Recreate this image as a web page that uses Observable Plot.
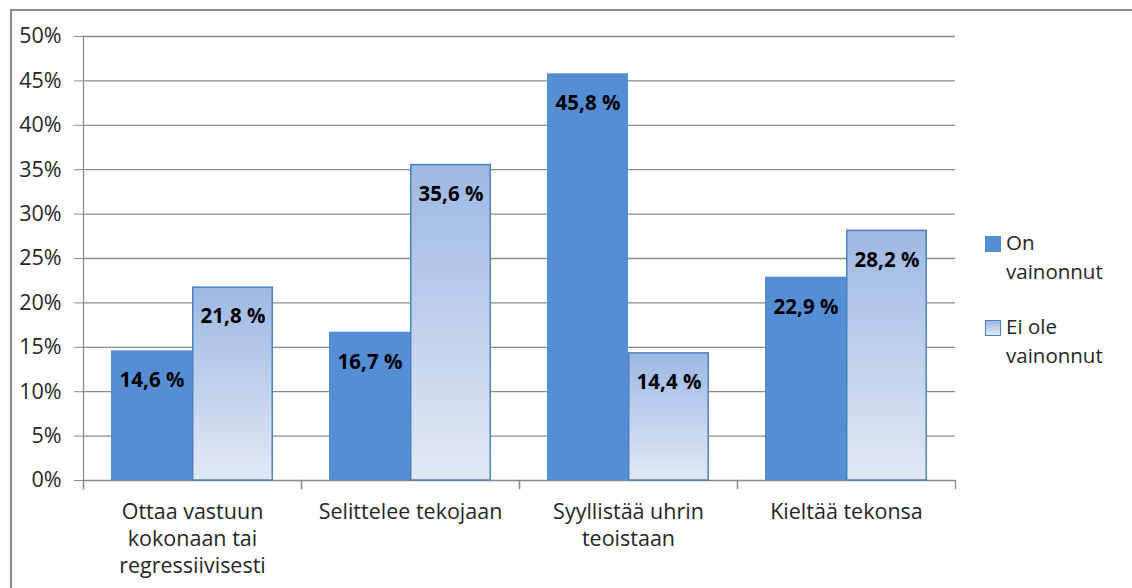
<!DOCTYPE html>
<html><head><meta charset="utf-8">
<script src="https://cdn.jsdelivr.net/npm/d3@7"></script>
<script src="https://cdn.jsdelivr.net/npm/@observablehq/plot@0.6"></script>
<style>
body{margin:0;background:#fff;}
#wrap{position:relative;width:1132px;height:588px;overflow:hidden;font-family:"Open Sans",sans-serif;background:#fff;}
#border{position:absolute;left:10px;top:9px;width:1300px;height:800px;border-top:2.5px solid #8a8a8a;border-left:2.5px solid #8a8a8a;pointer-events:none;}
#chart{position:absolute;left:0;top:0;}
#legend{position:absolute;left:985px;top:228px;font-size:20.5px;color:#262626;line-height:29px;}
.item{position:relative;padding-left:21px;margin-bottom:26px;}
.sw{position:absolute;left:0;top:8px;width:16px;height:16px;box-sizing:border-box;}
</style></head>
<body>
<div id="wrap"><div id="chart"></div><div id="border"></div><div id="legend"></div></div>
<script>
const categories = ["Ottaa vastuun\nkokonaan tai\nregressiivisesti", "Selittelee tekojaan", "Syyllistää uhrin\nteoistaan", "Kieltää tekonsa"];
const seriesNames = ["On vainonnut", "Ei ole vainonnut"];
const legendLines = [["On", "vainonnut"], ["Ei ole", "vainonnut"]];
const onValues = [14.6, 16.7, 45.8, 22.9];
const eiValues = [21.8, 35.6, 14.4, 28.2];
const yTicks = [0, 5, 10, 15, 20, 25, 30, 35, 40, 45, 50];

const colorOn = "#558ED5";
const strokeEi = "#4f81bd";

const rows = [];
categories.forEach((c, i) => {
  rows.push({category: c, series: seriesNames[0], value: onValues[i]});
  rows.push({category: c, series: seriesNames[1], value: eiValues[i]});
});
const fmt = v => v.toFixed(1).replace(".", ",") + " %";

const W = 1132, H = 588, mT = 36, mB = 108, mL = 81, mR = 176;
const innerH = H - mT - mB;
const gray = "#8a8a8a";

const plot = Plot.plot({
  width: W, height: H,
  marginTop: mT, marginBottom: mB, marginLeft: mL, marginRight: mR,
  style: {fontFamily: "'Open Sans', sans-serif", background: "transparent"},
  fx: {domain: categories, padding: 0, label: null},
  x: {domain: seriesNames, paddingInner: 0, paddingOuter: 0.342, axis: null},
  y: {domain: [0, 50], axis: null},
  marks: [
    Plot.gridY(yTicks, {stroke: gray, strokeOpacity: 1, strokeWidth: 1.3}),
    Plot.frame({anchor: "left", facet: "super", stroke: gray, strokeWidth: 1.3, insetBottom: -8}),
    Plot.frame({anchor: "left", stroke: gray, strokeWidth: 1.3, insetTop: innerH, insetBottom: -8}),
    Plot.frame({anchor: "right", stroke: gray, strokeWidth: 1.3, insetTop: innerH, insetBottom: -8}),
    Plot.barY(rows.filter(d => d.series === seriesNames[0]), {fx: "category", x: "series", y: "value", fill: colorOn}),
    Plot.barY(rows.filter(d => d.series === seriesNames[1]), {fx: "category", x: "series", y: "value", fill: "url(#eiGrad)", stroke: strokeEi, strokeWidth: 1.5, insetTop: 0.75, insetLeft: 0.75, insetRight: 0.75}),
    Plot.text(rows, {fx: "category", x: "series", y: "value", text: d => fmt(d.value), dy: 30, fontWeight: "bold", fontSize: 20.5, fill: "#000"}),
    Plot.axisY(yTicks, {tickFormat: d => d + "%", tickSize: 9, tickPadding: 13, fontSize: 21.5, stroke: gray, fill: "#262626", label: null}),
    Plot.axisFx({anchor: "bottom", tickSize: 0, tickPadding: 19, fontSize: 21.5, lineHeight: 1.27, fill: "#262626", label: null})
  ]
});
const svg = d3.select(plot);
const defs = svg.insert("defs", ":first-child");
const g = defs.append("linearGradient").attr("id", "eiGrad").attr("x1", 0).attr("y1", 0).attr("x2", 0).attr("y2", 1);
g.append("stop").attr("offset", "0%").attr("stop-color", "#9db8e3");
g.append("stop").attr("offset", "100%").attr("stop-color", "#e2e9f6");
document.getElementById("chart").appendChild(plot);

const legend = d3.select("#legend");
legendLines.forEach((lines, i) => {
  const it = legend.append("div").attr("class", "item");
  const sw = it.append("div").attr("class", "sw");
  if (i === 0) sw.style("background", colorOn);
  else sw.style("background", "linear-gradient(#9db8e3,#e2e9f6)").style("border", "1.5px solid " + strokeEi);
  lines.forEach(l => it.append("div").text(l));
});
</script>
</body></html>
